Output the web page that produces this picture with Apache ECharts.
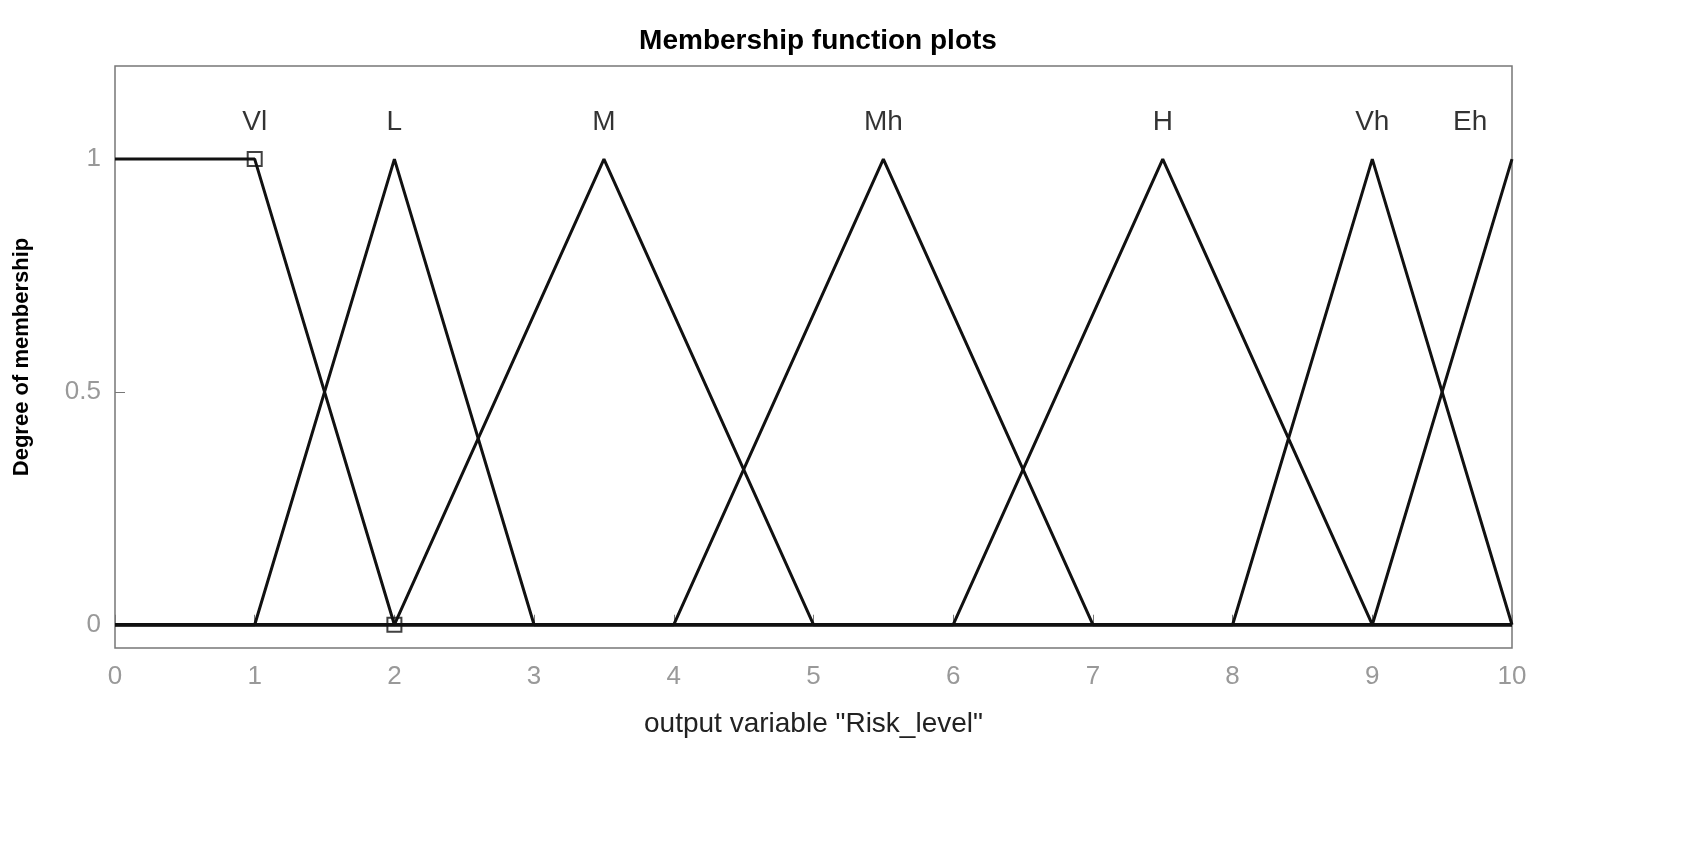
<!DOCTYPE html>
<html>
<head>
<meta charset="utf-8">
<script src="https://cdn.jsdelivr.net/npm/echarts@6/dist/echarts.min.js"></script>
<style>html,body{margin:0;background:#fff}#main{width:1706px;height:844px}</style>
</head>
<body>
<div id="main"></div>
<script>
var mfNames = ['Vl', 'L', 'M', 'Mh', 'H', 'Vh', 'Eh'];
// breakpoints [x, membership] for each MF across 0..10
var mfPoints = [
  [[0, 1], [1, 1], [2, 0], [10, 0]],
  [[0, 0], [1, 0], [2, 1], [3, 0], [10, 0]],
  [[0, 0], [2, 0], [3.5, 1], [5, 0], [10, 0]],
  [[0, 0], [4, 0], [5.5, 1], [7, 0], [10, 0]],
  [[0, 0], [6, 0], [7.5, 1], [9, 0], [10, 0]],
  [[0, 0], [8, 0], [9, 1], [10, 0]],
  [[0, 0], [9, 0], [10, 1]]
];
var labelX = [1, 2, 3.5, 5.5, 7.5, 9, 9.7];
var labelY = 1.08;
var markerPts = [[1, 1], [2, 0]];
var yTicks = [0, 0.5, 1];

var myChart = echarts.init(document.getElementById('main'));
var series = mfPoints.map(function (pts) {
  return {
    type: 'line', data: pts, symbol: 'none', animation: false,
    lineStyle: { color: '#111', width: 3 }
  };
});
series.push({
  type: 'scatter', data: markerPts, symbol: 'rect', symbolSize: 14,
  itemStyle: { color: 'rgba(255,255,255,0)', borderColor: '#111', borderWidth: 2 }, z: 5
});
series.push({
  type: 'scatter', symbolSize: 0, animation: false,
  data: mfNames.map(function (n, i) { return { value: [labelX[i], labelY], name: n }; }),
  label: { show: true, position: 'inside', formatter: '{b}', color: '#000', fontSize: 28, fontFamily: 'Arial' }
});
option = {
  animation: false,
  title: {
    text: 'Membership function plots', left: 813, top: 22, textAlign: 'center',
    textStyle: { fontSize: 28, fontWeight: 'bold', color: '#000', fontFamily: 'Arial' }
  },
  grid: { left: 115, right: 194, top: 66, bottom: 196, show: true, borderColor: '#777', borderWidth: 1.5 },
  xAxis: {
    type: 'value', min: 0, max: 10, interval: 1,
    name: 'output variable "Risk_level"', nameLocation: 'middle', nameGap: 62,
    nameTextStyle: { fontSize: 28, color: '#222', fontFamily: 'Arial' },
    axisLine: { show: false }, splitLine: { show: false },
    axisTick: { inside: true, length: 10, lineStyle: { color: '#777' } },
    axisLabel: { fontSize: 26, color: '#999', margin: 16, fontFamily: 'Arial' }
  },
  yAxis: {
    type: 'value', min: -0.05, max: 1.2,
    name: 'Degree of membership', nameLocation: 'middle', nameGap: 82, nameRotate: 90,
    nameTextStyle: { fontSize: 22, fontWeight: 'bold', color: '#000', fontFamily: 'Arial' },
    axisLine: { show: false }, splitLine: { show: false },
    axisTick: { inside: true, length: 10, customValues: yTicks, lineStyle: { color: '#777' } },
    axisLabel: { fontSize: 26, color: '#999', margin: 14, customValues: yTicks, fontFamily: 'Arial' }
  },
  series: series
};
myChart.setOption(option);
</script>
</body>
</html>
